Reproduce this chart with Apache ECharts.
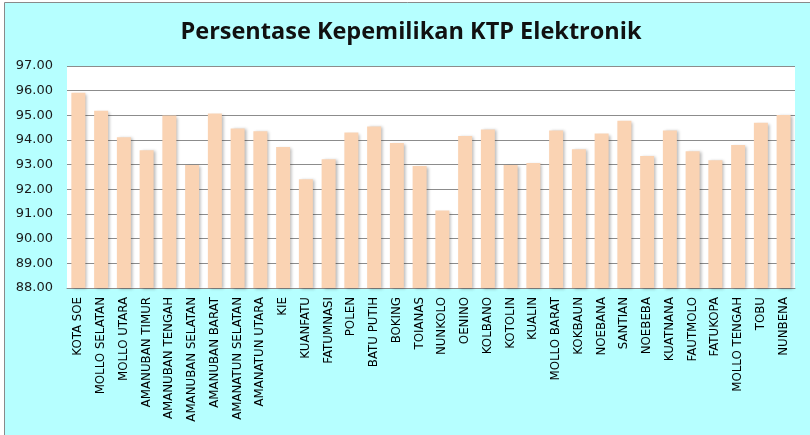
<!DOCTYPE html>
<html>
<head>
<meta charset="utf-8">
<script src="https://cdn.jsdelivr.net/npm/echarts@6/dist/echarts.min.js"></script>
<style>
html,body{margin:0;padding:0;background:#ffffff;}
#chart{width:810px;height:435px;}
</style>
</head>
<body>
<div id="chart"></div>
<script>
const titleText = "Persentase Kepemilikan KTP Elektronik";
const categories = ["KOTA SOE","MOLLO SELATAN","MOLLO UTARA","AMANUBAN TIMUR","AMANUBAN TENGAH","AMANUBAN SELATAN","AMANUBAN BARAT","AMANATUN SELATAN","AMANATUN UTARA","KIE","KUANFATU","FATUMNASI","POLEN","BATU PUTIH","BOKING","TOIANAS","NUNKOLO","OENINO","KOLBANO","KOTOLIN","KUALIN","MOLLO BARAT","KOKBAUN","NOEBANA","SANTIAN","NOEBEBA","KUATNANA","FAUTMOLO","FATUKOPA","MOLLO TENGAH","TOBU","NUNBENA"];
const values = [95.92,95.19,94.11,93.58,94.99,92.99,95.07,94.47,94.35,93.72,92.41,93.22,94.30,94.55,93.88,92.95,91.14,94.16,94.43,92.99,93.07,94.39,93.62,94.26,94.78,93.35,94.39,93.54,93.18,93.80,94.70,95.01];
const yMin = 88, yMax = 97, yStep = 1;

const chart = echarts.init(document.getElementById('chart'), null, {renderer:'canvas'});
chart.setOption({
  animation:false,
  backgroundColor:'#ffffff',
  graphic:[
    {type:'rect', z:-10, shape:{x:4.5,y:2.5,width:900,height:500}, style:{fill:'#b6ffff', stroke:'#8a8a8a', lineWidth:1}, silent:true}
  ],
  title:{
    text:titleText,
    left:406, top:15, textAlign:'center',
    textStyle:{fontFamily:'Open Sans', fontWeight:'bold', fontSize:23.5, color:'#111111'}
  },
  grid:{left:67, right:15, top:66, bottom:147, show:true, backgroundColor:'#ffffff', borderWidth:0, containLabel:false},
  xAxis:{
    type:'category', data:categories,
    axisLine:{show:true, lineStyle:{color:'#8a8a8a', width:1}},
    axisTick:{show:false},
    axisLabel:{rotate:90, interval:0, margin:9, fontFamily:'DejaVu Sans', fontSize:11.8, color:'#000000'}
  },
  yAxis:{
    type:'value', min:yMin, max:yMax, interval:yStep,
    axisLine:{show:false}, axisTick:{show:false},
    splitLine:{show:true, lineStyle:{color:'#8c8c8c', width:1}},
    axisLabel:{formatter:v=>v.toFixed(2), margin:14, fontFamily:'DejaVu Sans', fontSize:13, color:'#1a1a1a'}
  },
  series:[{
    type:'bar', data:values, barWidth:14,
    itemStyle:{color:'#fad3b3', shadowColor:'rgba(0,0,0,0.28)', shadowBlur:3, shadowOffsetX:2, shadowOffsetY:1}
  }]
});
</script>
</body>
</html>
